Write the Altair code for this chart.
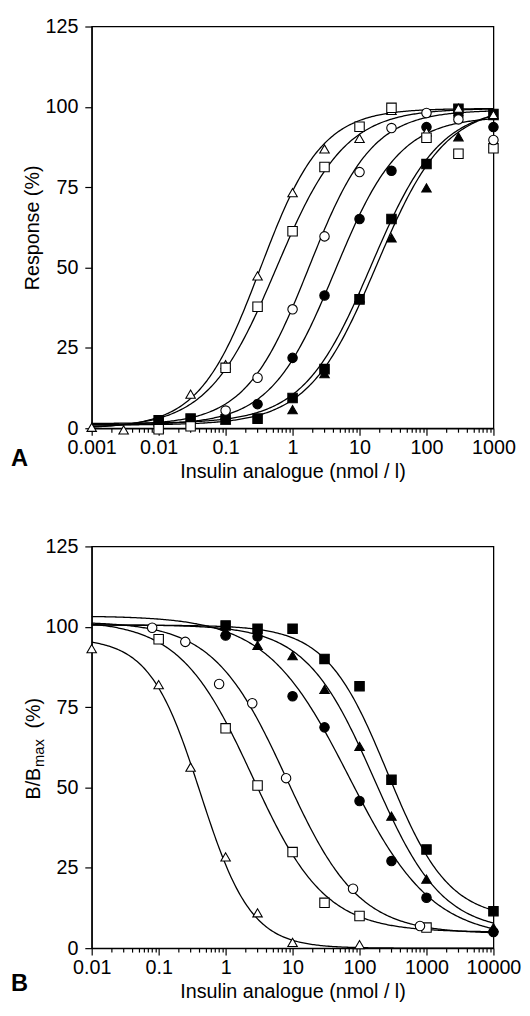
import altair as alt
import numpy as np
import pandas as pd

FONT = "Liberation Sans"

SERIES = ["circ_filled", "sq_filled", "tri_filled", "tri_open", "sq_open", "circ_open"]
SHAPES = ["circle", "square", "triangle-up", "triangle-up", "square", "circle"]
FILLS = ["black", "black", "black", "white", "white", "white"]

# ---------------- Panel A: response ----------------
A_X = [0.001, 0.003, 0.01, 0.03, 0.1, 0.3, 1, 3, 10, 30, 100, 300, 1000]
A_tri_open = [0.3, -0.5, 0.0, 10.6, 19.8, 47.4, 73.3, 86.9, 90.2, 98.9, 92.2, 99.6, 97.6]
A_sq_open = [None, None, -0.3, 0.6, 18.8, 37.8, 61.3, 81.3, 93.8, 99.7, 90.4, 85.4, 87.1]
A_circ_open = [None, None, None, None, 5.5, 15.7, 37.0, 59.7, 79.7, 93.4, 98.1, 96.1, 89.7]
A_circ_filled = [None, None, 2.5, None, 3.0, 7.5, 21.9, 41.3, 65.1, 80.1, 93.7, 97.3, 93.7]
A_sq_filled = [None, None, 2.5, 3.0, 2.8, 3.0, 9.4, 18.4, 40.1, 65.1, 82.2, 99.4, 97.8]
A_tri_filled = [None, None, 2.0, None, 2.5, None, 5.8, 17.0, 40.6, 59.2, 74.8, 90.7, 97.3]

# fitted four-parameter logistic curves (EC50, Hill slope, bottom, top)
A_FIT = {
    "tri_open":    (0.33, 0.95, 0.0, 99.5),
    "sq_open":     (0.57, 0.85, 0.0, 99.5),
    "circ_open":   (1.75, 0.92, 1.0, 99.0),
    "circ_filled": (4.3, 0.90, 1.0, 97.0),
    "sq_filled":   (15.0, 0.85, 1.5, 100.0),
    "tri_filled":  (18.0, 0.85, 1.0, 100.5),
}

# ---------------- Panel B: binding ----------------
B_tri_open_x = [0.01, 0.1, 0.3, 1, 3, 10, 100]
B_tri_open = [93.2, 82.0, 56.3, 28.4, 11.0, 1.8, 1.1]
B_sq_open_x = [0.1, 1, 3, 10, 30, 100, 1000]
B_sq_open = [96.1, 68.4, 50.6, 29.9, 14.1, 10.0, 6.4]
B_circ_open_x = [0.08, 0.25, 0.8, 2.5, 8, 80, 800]
B_circ_open = [99.7, 95.3, 82.2, 76.2, 52.9, 18.5, 6.9]
B_filled_x = [1, 3, 10, 30, 100, 300, 1000, 10000]
B_circ_filled = [97.3, 97.0, 78.4, 68.7, 45.8, 27.1, 15.7, 5.0]
B_sq_filled = [100.4, 99.4, 99.4, 90.0, 81.5, 52.4, 30.7, 11.5]
B_tri_filled = [98.5, 94.2, 91.0, 80.5, 62.8, 41.1, 21.5, 6.4]

# fitted curves (IC50, Hill slope, bottom, top)
B_FIT = {
    "tri_open":    (0.42, 1.15, 0.0, 96.5),
    "sq_open":     (2.5, 0.80, 5.0, 102.0),
    "circ_open":   (8.0, 0.80, 4.5, 101.6),
    "circ_filled": (70.0, 0.70, 3.0, 103.4),
    "tri_filled":  (164.0, 0.85, 5.0, 100.6),
    "sq_filled":   (260.0, 0.95, 9.0, 100.5),
}


def points_df(rows):
    recs = []
    for s, xs, ys in rows:
        for x, y in zip(xs, ys):
            if y is not None:
                recs.append({"series": s, "x": x, "y": y})
    return pd.DataFrame(recs)


def curves_df(fits, lo, hi, decreasing):
    lx = np.linspace(lo, hi, 301)
    recs = []
    for s, (c50, h, bot, top) in fits.items():
        sign = -1.0 if decreasing else 1.0
        y = bot + (top - bot) / (1.0 + 10 ** (sign * (np.log10(c50) - lx) * h))
        for a, b in zip(10 ** lx, y):
            recs.append({"series": s, "x": a, "y": b})
    return pd.DataFrame(recs)


ptsA = points_df([
    ("circ_filled", A_X, A_circ_filled), ("sq_filled", A_X, A_sq_filled),
    ("tri_filled", A_X, A_tri_filled), ("tri_open", A_X, A_tri_open),
    ("sq_open", A_X, A_sq_open), ("circ_open", A_X, A_circ_open)])
ptsB = points_df([
    ("circ_filled", B_filled_x, B_circ_filled), ("sq_filled", B_filled_x, B_sq_filled),
    ("tri_filled", B_filled_x, B_tri_filled), ("tri_open", B_tri_open_x, B_tri_open),
    ("sq_open", B_sq_open_x, B_sq_open), ("circ_open", B_circ_open_x, B_circ_open)])
curA = curves_df(A_FIT, -3, 3, False)
curB = curves_df(B_FIT, -2, 4, True)

MAJOR = "abs(log(datum.value)/LN10 - round(log(datum.value)/LN10)) < 0.001"
XTITLE = "Insulin analogue (nmol / l)"


def tick_values(lo, hi):
    vals = []
    for e in range(lo, hi):
        for m in range(1, 10):
            vals.append(float(f"{m}e{e}"))
    vals.append(float(f"1e{hi}"))
    return vals


def x_enc(lo, hi):
    return alt.X(
        "x:Q",
        scale=alt.Scale(type="log", domain=[10.0 ** lo, 10.0 ** hi], nice=False),
        axis=alt.Axis(
            values=tick_values(lo, hi),
            labelExpr=f"{MAJOR} ? format(datum.value, '~g') : ''",
            tickSize={"condition": {"test": MAJOR, "value": 7}, "value": 4},
            labelOverlap=False, labelFlush=False, labelPadding=3,
            title=XTITLE, titlePadding=4,
        ),
    )


def y_enc(title):
    return alt.Y("y:Q", scale=alt.Scale(domain=[0, 125], nice=False, zero=False),
                 axis=alt.Axis(values=[0, 25, 50, 75, 100, 125], tickSize=7,
                               labelPadding=7, labelFlush=False, titlePadding=3,
                               title=title))


shape_enc = alt.Shape("series:N", scale=alt.Scale(domain=SERIES, range=SHAPES), legend=None)
fill_enc = alt.Fill("series:N", scale=alt.Scale(domain=SERIES, range=FILLS), legend=None)


def panel(pts, cur, lo, hi, ytitle, letter, ly):
    lines = alt.Chart(cur).mark_line(color="black", strokeWidth=1.3).encode(
        x=x_enc(lo, hi), y=y_enc(ytitle), detail="series:N")
    dots = alt.Chart(pts).mark_point(size=92, stroke="black", strokeWidth=1.1, opacity=1,
                                     filled=False).encode(
        x="x:Q", y="y:Q", shape=shape_enc, fill=fill_enc)
    lab = alt.Chart(pd.DataFrame({"t": [letter]})).mark_text(
        font=FONT, fontSize=24, fontWeight="bold", align="left", baseline="middle",
        color="black").encode(text="t:N", x=alt.value(-82), y=alt.value(ly))
    return [lines, dots, lab]


layA = panel(ptsA, curA, -3, 3, "Response (%)", "A", 439)
layB = panel(ptsB, curB, -2, 4, "", "B", 444)

# B / B_max (%) y title built from text pieces (subscript)
ytB = []
for txt, dx, dy, fs in [("B/B", 0, 0, 20), ("max", 33, 5, 15), ("(%)", 72, 0, 20)]:
    ytB.append(alt.Chart(pd.DataFrame({"t": [txt]})).mark_text(
        font=FONT, fontSize=fs, align="left", baseline="middle", angle=270,
        dx=dx, dy=dy, color="black").encode(
        text="t:N", x=alt.value(-58), y=alt.value(257)))

chartA = alt.layer(*layA).properties(width=408, height=408)
chartB = alt.layer(*(layB + ytB)).properties(width=408, height=408)

chart = alt.vconcat(chartA, chartB, spacing=54).properties(
    padding={"left": 2, "top": 0, "right": 0, "bottom": 0}
).configure_axis(
    labelFont=FONT, labelFontSize=20, labelColor="black",
    titleFont=FONT, titleFontSize=20, titleFontWeight="normal", titleColor="black",
    domainColor="black", tickColor="black", domainWidth=1.3, tickWidth=1.2, grid=False,
).configure_view(stroke="black", strokeWidth=1.3)

chart.save("out.html", embed_options={"renderer": "svg", "actions": False})
